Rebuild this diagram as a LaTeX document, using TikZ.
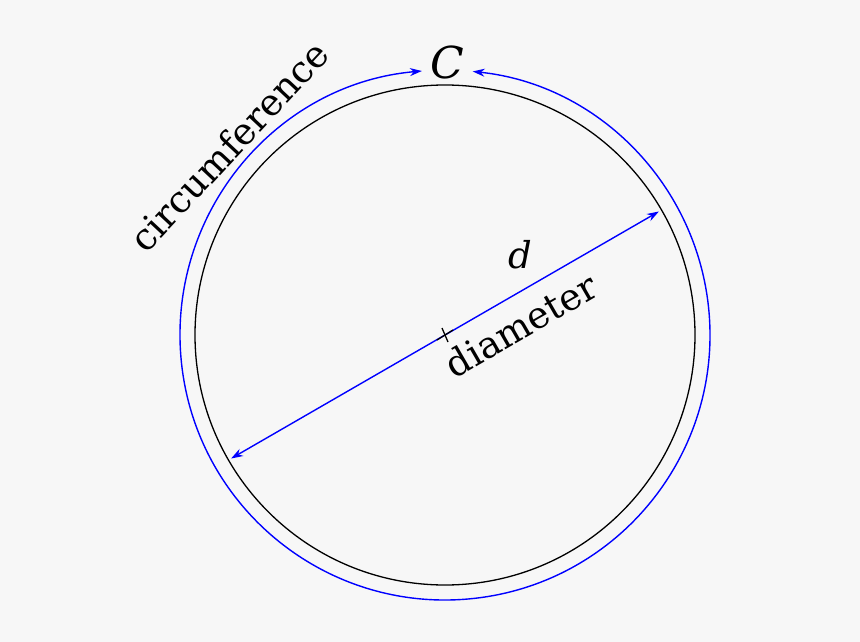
\documentclass[tikz,border=0pt]{standalone}
\usepackage{fontspec}
\setmainfont{DejaVu Serif}
\usetikzlibrary{arrows.meta}
\definecolor{bg}{HTML}{F7F7F7}
\begin{document}
\begin{tikzpicture}[x=1pt,y=1pt,
  blueline/.style={blue,line width=1.4pt,{Stealth[length=12pt,width=8pt]}-{Stealth[length=12pt,width=8pt]}},
  lbl/.style={font=\fontsize{37}{37}\selectfont,inner sep=0pt}]
\fill[bg] (0,0) rectangle (860,-642);
\useasboundingbox (0,0) rectangle (860,-642);
\coordinate (o) at (445,-335);
\node[circle,draw=black,line width=1.3pt,minimum size=500pt,inner sep=0pt] (circ) at (o) {};
\draw[blueline] ([shift={(95:265)}]o) arc[start angle=95,end angle=444,radius=265];
\coordinate (d1) at ([shift={(210:247)}]o);
\coordinate (d2) at ([shift={(30:247)}]o);
\draw[blueline] (d1) -- (d2);
\draw[line width=1.3pt] ([shift={(-8,-5)}]o) -- ([shift={(8,5)}]o) ([shift={(-3,7)}]o) -- ([shift={(3,-7)}]o);
\node[lbl,font=\fontsize{44}{44}\selectfont] (C) at (447,-62) {\itshape C};
\node[lbl] (d) at (520,-255) {\itshape d};
\node[lbl,rotate=30] (dm) at (521,-325) {diameter};
\node[lbl,rotate=47] (cf) at (229,-146) {circumference};
\end{tikzpicture}
\end{document}
